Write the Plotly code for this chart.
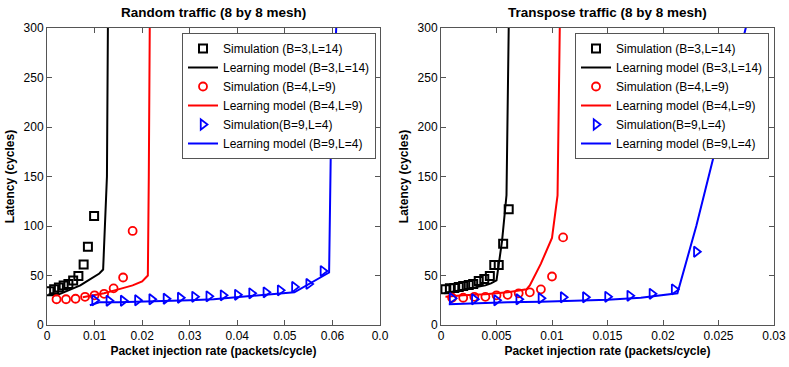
import plotly.graph_objects as go

# Random traffic (left panel)
rnd_sim3_x = [0.0005, 0.0015, 0.0025, 0.0035, 0.0045, 0.0055, 0.0066, 0.0077, 0.0086, 0.0099]
rnd_sim3_y = [34, 36, 38, 40, 41.5, 45, 49.5, 61, 79, 110]
rnd_mod3_x = [0.0003, 0.002, 0.003, 0.004, 0.005, 0.006, 0.007, 0.008, 0.009, 0.010, 0.011, 0.0118, 0.0122, 0.0126, 0.0128]
rnd_mod3_y = [31, 30, 32, 34, 36, 38, 40, 43, 46, 49, 52, 56, 100, 150, 300]

rnd_sim4_x = [0.002, 0.004, 0.006, 0.008, 0.010, 0.012, 0.014, 0.016, 0.018]
rnd_sim4_y = [26, 26, 26.5, 28.5, 30, 31.5, 37, 48, 95]
rnd_mod4_x = [0.0075, 0.010, 0.012, 0.015, 0.018, 0.020, 0.0212, 0.0214, 0.0216]
rnd_mod4_y = [28, 30, 32, 36, 40, 44, 50, 150, 300]

rnd_sim9_x = [0.010, 0.013, 0.016, 0.019, 0.022, 0.025, 0.028, 0.031, 0.034,
              0.037, 0.040, 0.043, 0.046, 0.049, 0.052, 0.055, 0.058]
rnd_sim9_y = [25, 24.5, 24.5, 25, 26, 26.5, 27.5, 28.5, 29, 30, 30.5, 32, 33, 35, 38.5, 41.5, 54.5]
rnd_mod9_x = [0.009, 0.011, 0.015, 0.020, 0.025, 0.030, 0.035, 0.040, 0.045, 0.050, 0.052, 0.0593, 0.0597, 0.0608]
rnd_mod9_y = [20, 23, 23, 23.5, 24, 25, 26, 28, 30, 32, 33, 53, 190, 300]

# Transpose traffic (right panel)
tr_sim3_x = [0.0004, 0.0008, 0.0012, 0.0016, 0.0020, 0.0025, 0.0029, 0.0034, 0.0039,
             0.0044, 0.0048, 0.0052, 0.0056, 0.0061]
tr_sim3_y = [36, 37, 37.5, 38.5, 39.5, 40.5, 41.5, 44.5, 46.5, 49.5, 60.5, 60.5, 82, 117]
tr_mod3_x = [0.0003, 0.001, 0.002, 0.003, 0.004, 0.0045, 0.005, 0.0055, 0.0059, 0.0061]
tr_mod3_y = [32, 33.5, 35.5, 37.5, 40, 42, 45, 85, 131, 300]

tr_sim4_x = [0.001, 0.002, 0.003, 0.004, 0.005, 0.006, 0.007, 0.008, 0.009, 0.010, 0.011]
tr_sim4_y = [27.5, 27.5, 28.5, 28.5, 30, 30.5, 32, 33, 36, 49, 88.5]
tr_mod4_x = [0.0004, 0.002, 0.004, 0.006, 0.0077, 0.008, 0.009, 0.010, 0.0105, 0.0107]
tr_mod4_y = [28.5, 30, 31, 33, 36, 40, 62, 88, 131, 300]

tr_sim9_x = [0.001, 0.003, 0.005, 0.007, 0.009, 0.011, 0.013, 0.015, 0.017, 0.019, 0.021, 0.023]
tr_sim9_y = [27, 26, 25, 26, 27, 28, 28, 28.5, 29.5, 31.5, 36, 74]
tr_mod9_x = [0.0007, 0.003, 0.006, 0.009, 0.012, 0.015, 0.018, 0.0213, 0.023, 0.0275]
tr_mod9_y = [21, 22, 23, 23.5, 24.5, 25.5, 27.5, 32, 100, 302]

names = ["Simulation (B=3,L=14)", "Learning model (B=3,L=14)",
         "Simulation (B=4,L=9)", "Learning model (B=4,L=9)",
         "Simulation(B=9,L=4)", "Learning model (B=9,L=4)"]

left_ticks = [0, 0.01, 0.02, 0.03, 0.04, 0.05, 0.06, 0.07]
left_labels = ["0", "0.01", "0.02", "0.03", "0.04", "0.05", "0.06", "0.0"]
right_ticks = [0, 0.005, 0.01, 0.015, 0.02, 0.025, 0.03]
right_labels = ["0", "0.005", "0.01", "0.015", "0.02", "0.025", "0.03"]

FONT = "Liberation Sans, Arial, sans-serif"

fig = go.Figure()


def add_panel(fig, data, xa, ya, leg):
    styles = [
        dict(mode="markers", marker=dict(symbol="square-open", size=8, color="black", line=dict(width=2))),
        dict(mode="lines", line=dict(color="black", width=2)),
        dict(mode="markers", marker=dict(symbol="circle-open", size=8, color="red", line=dict(width=1.8))),
        dict(mode="lines", line=dict(color="red", width=2)),
        dict(mode="markers", marker=dict(symbol="triangle-right-open", size=9, color="blue", line=dict(width=1.8))),
        dict(mode="lines", line=dict(color="blue", width=2)),
    ]
    for (x, y), name, st in zip(data, names, styles):
        fig.add_trace(go.Scatter(x=x, y=y, name=name, xaxis=xa, yaxis=ya,
                                 legend=leg, **st))


add_panel(fig, [(rnd_sim3_x, rnd_sim3_y), (rnd_mod3_x, rnd_mod3_y),
                (rnd_sim4_x, rnd_sim4_y), (rnd_mod4_x, rnd_mod4_y),
                (rnd_sim9_x, rnd_sim9_y), (rnd_mod9_x, rnd_mod9_y)], "x", "y", "legend")
add_panel(fig, [(tr_sim3_x, tr_sim3_y), (tr_mod3_x, tr_mod3_y),
                (tr_sim4_x, tr_sim4_y), (tr_mod4_x, tr_mod4_y),
                (tr_sim9_x, tr_sim9_y), (tr_mod9_x, tr_mod9_y)], "x2", "y2", "legend2")

axis_style = dict(showline=True, mirror="ticks", linecolor="#555555", linewidth=1,
                  ticks="inside", ticklen=5, tickcolor="#555555", showgrid=False,
                  zeroline=False, automargin=False, tickfont=dict(size=12, color="black"))

x_dom1 = [47 / 789, 380 / 789]
x_dom2 = [441 / 789, 774 / 789]
y_dom = [1 - 325 / 367, 1 - 28 / 367]

xtitle = dict(text="<b>Packet injection rate (packets/cycle)</b>", font=dict(size=12), standoff=4)
ytitle = dict(text="<b>Latency (cycles)</b>", font=dict(size=12), standoff=6)
legend_style = dict(y=1 - 33 / 367, xanchor="right", yanchor="top",
                    bgcolor="white", bordercolor="#555555", borderwidth=1,
                    font=dict(size=12), tracegroupgap=0, itemwidth=30)

fig.update_layout(
    width=789, height=367,
    margin=dict(l=0, r=0, t=0, b=0),
    paper_bgcolor="white", plot_bgcolor="white",
    font=dict(family=FONT, color="black"),
    xaxis=dict(domain=x_dom1, range=[0, 0.07], tickvals=left_ticks, ticktext=left_labels,
               title=xtitle, anchor="y", **axis_style),
    yaxis=dict(domain=y_dom, range=[0, 300], dtick=50, title=ytitle, anchor="x", **axis_style),
    xaxis2=dict(domain=x_dom2, range=[0, 0.03], tickvals=right_ticks, ticktext=right_labels,
                title=xtitle, anchor="y2", **axis_style),
    yaxis2=dict(domain=y_dom, range=[0, 300], dtick=50, title=ytitle, anchor="x2", **axis_style),
    legend=dict(x=376 / 789, **legend_style),
    legend2=dict(x=769 / 789, **legend_style),
    showlegend=True,
    annotations=[
        dict(text="<b>Random traffic (8 by 8 mesh)</b>", x=(x_dom1[0] + x_dom1[1]) / 2, y=1 - 12 / 367,
             xref="paper", yref="paper", xanchor="center", yanchor="middle",
             showarrow=False, font=dict(size=13.5)),
        dict(text="<b>Transpose traffic (8 by 8 mesh)</b>", x=(x_dom2[0] + x_dom2[1]) / 2, y=1 - 12 / 367,
             xref="paper", yref="paper", xanchor="center", yanchor="middle",
             showarrow=False, font=dict(size=13.5)),
    ],
)

# drop the default page margin so the figure sits at the window's top-left corner
fig.write_html("out.html", config={"displayModeBar": False},
               post_script="document.body.style.margin = '0';")
